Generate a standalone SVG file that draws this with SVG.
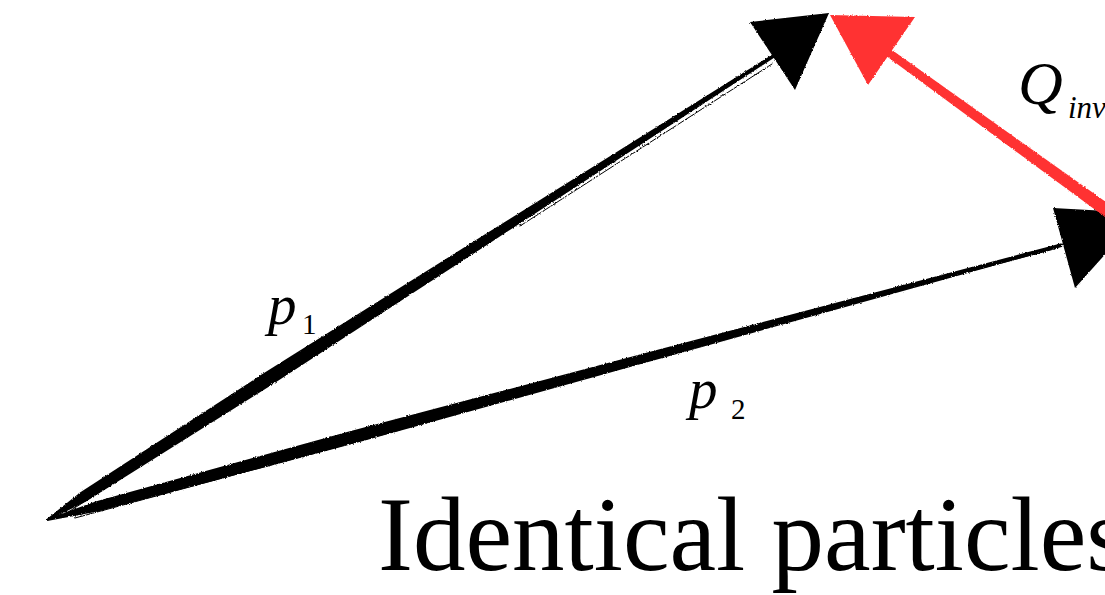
<svg xmlns="http://www.w3.org/2000/svg" width="1105" height="595" viewBox="0 0 1105 595">
  <defs>
    <filter id="rough" x="-5%" y="-5%" width="110%" height="110%">
      <feTurbulence type="fractalNoise" baseFrequency="0.9" numOctaves="2" seed="3" result="n"/>
      <feDisplacementMap in="SourceGraphic" in2="n" scale="2.5" xChannelSelector="R" yChannelSelector="G"/>
    </filter>
  </defs>
  <style>
    .ink { fill: #000; }
    .red { fill: #ff3333; }
    .hair { stroke: #000; stroke-width: 1; fill: none; stroke-linecap: round; }
    .lab { font-family: "Liberation Serif", "Times New Roman", serif; font-style: italic; fill: #000; }
    .sub { font-family: "Liberation Serif", "Times New Roman", serif; font-style: normal; fill: #000; }
    .title { font-family: "Liberation Serif", "Times New Roman", serif; fill: #000; }
  </style>
  <rect width="1105" height="595" fill="#fff"/>

  <g id="connectors" filter="url(#rough)">
    <g id="p1-arrow">
      <polygon class="ink" points="46.5,519.2 80.4,492.2 261.6,374.6 481.1,236.8 774,53.4 776,56.6 486.5,245.2 269.2,386.4 86.4,501.3 47.5,520.8"/>
      <path class="hair" d="M62,516 L300,364 M520,226 L772,64"/>
      <polygon class="ink" points="750,22 829,13 795,90"/>
    </g>
    <g id="p2-arrow">
      <polygon class="ink" points="46.7,519 96.4,501.2 349.8,431.2 654.8,350.6 1061.5,243.3 1062.5,246.7 657.2,359.4 353.2,443.8 99.1,511.3 47.3,521"/>
      <path class="hair" d="M75,518 L400,430 M600,369 L1058,248"/>
      <polygon class="ink" points="1053,208 1142,213 1075,288"/>
    </g>
    <g id="qinv-arrow">
      <polygon class="red" points="887.4,46.8 1123.8,214.7 1116.2,225.3 882.6,53.2"/>
      <polygon class="red" points="830,15 915,17 868,85"/>
    </g>
  </g>

  <g id="label-p1">
    <text class="lab" x="268" y="324" font-size="57">p</text>
    <text class="sub" x="302" y="334" font-size="29">1</text>
  </g>
  <g id="label-p2">
    <text class="lab" x="689" y="408" font-size="57">p</text>
    <text class="sub" x="731" y="419" font-size="29">2</text>
  </g>
  <g id="label-qinv">
    <text class="lab" x="1018" y="104" font-size="62">Q</text>
    <text class="lab" x="1068" y="118" font-size="31">inv</text>
  </g>
  <g id="title">
    <text class="title" x="378" y="570" font-size="105">Identical particles</text>
  </g>
</svg>
